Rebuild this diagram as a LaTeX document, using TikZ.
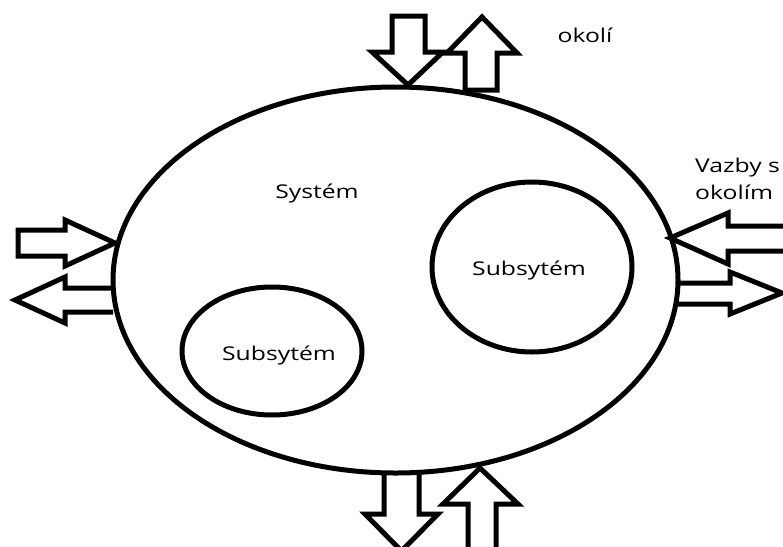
\documentclass[tikz,border=0pt]{standalone}
\usepackage{fontspec}
\setmainfont{Open Sans}
\begin{document}
\begin{tikzpicture}[x=1pt,y=-1pt,
  outline/.style={draw=black,line width=5pt,line join=miter},
  ring/.style={draw=black,line width=5pt},
  lbl/.style={inner sep=0pt,font=\fontsize{19}{23}\selectfont,text=black}]
\useasboundingbox (0,0) rectangle (783,546);
% main system and subsystems
\draw[ring] (395.5,280) ellipse [x radius=282.5, y radius=193];
\draw[ring] (532,267) ellipse [x radius=100, y radius=85];
\draw[ring] (272,351) ellipse [x radius=90, y radius=64];
% top arrows
\draw[outline] (392,16) -- (425,16) -- (425,52) -- (443,52) -- (408,85) -- (372,52) -- (392,52) -- cycle;
\draw[outline] (465,90) -- (465,53) -- (447,53) -- (482,17) -- (517,53) -- (497,53) -- (497,90) -- cycle;
% left arrows
\draw[outline] (18,230) -- (65,230) -- (65,220) -- (115,243) -- (65,266) -- (65,256) -- (18,256) -- cycle;
\draw[outline] (113,288) -- (65,288) -- (65,277) -- (15,300) -- (65,323) -- (65,312) -- (113,312);
% right arrows
\draw[outline] (800,226) -- (728,226) -- (728,213) -- (670,238) -- (728,264) -- (728,251) -- (800,251);
\draw[outline] (678,283) -- (730,283) -- (730,272) -- (782,293) -- (730,314) -- (730,304) -- (678,304);
% bottom arrows
\draw[outline] (384,473) -- (384,514) -- (365,514) -- (401.5,551) -- (438,514) -- (419,514) -- (419,473);
\draw[outline] (468,560) -- (468,504) -- (443,504) -- (480,468) -- (518,504) -- (496,504) -- (496,560);
% texts
\node[lbl,anchor=base] (okoli) at (585,42) {\scalebox{1.3}[1]{okolí}};
\node[lbl,anchor=base] (system) at (317,198) {\scalebox{1.3}[1]{Systém}};
\node[lbl,anchor=base] (sub1) at (529,275) {\scalebox{1.3}[1]{Subsytém}};
\node[lbl,anchor=base] (sub2) at (279,360) {\scalebox{1.3}[1]{Subsytém}};
\node[lbl,anchor=base west] (vazby) at (695,172) {\scalebox{1.3}[1]{Vazby s}};
\node[lbl,anchor=base west] (okolim) at (695,199) {\scalebox{1.3}[1]{okolím}};
\end{tikzpicture}
\end{document}
